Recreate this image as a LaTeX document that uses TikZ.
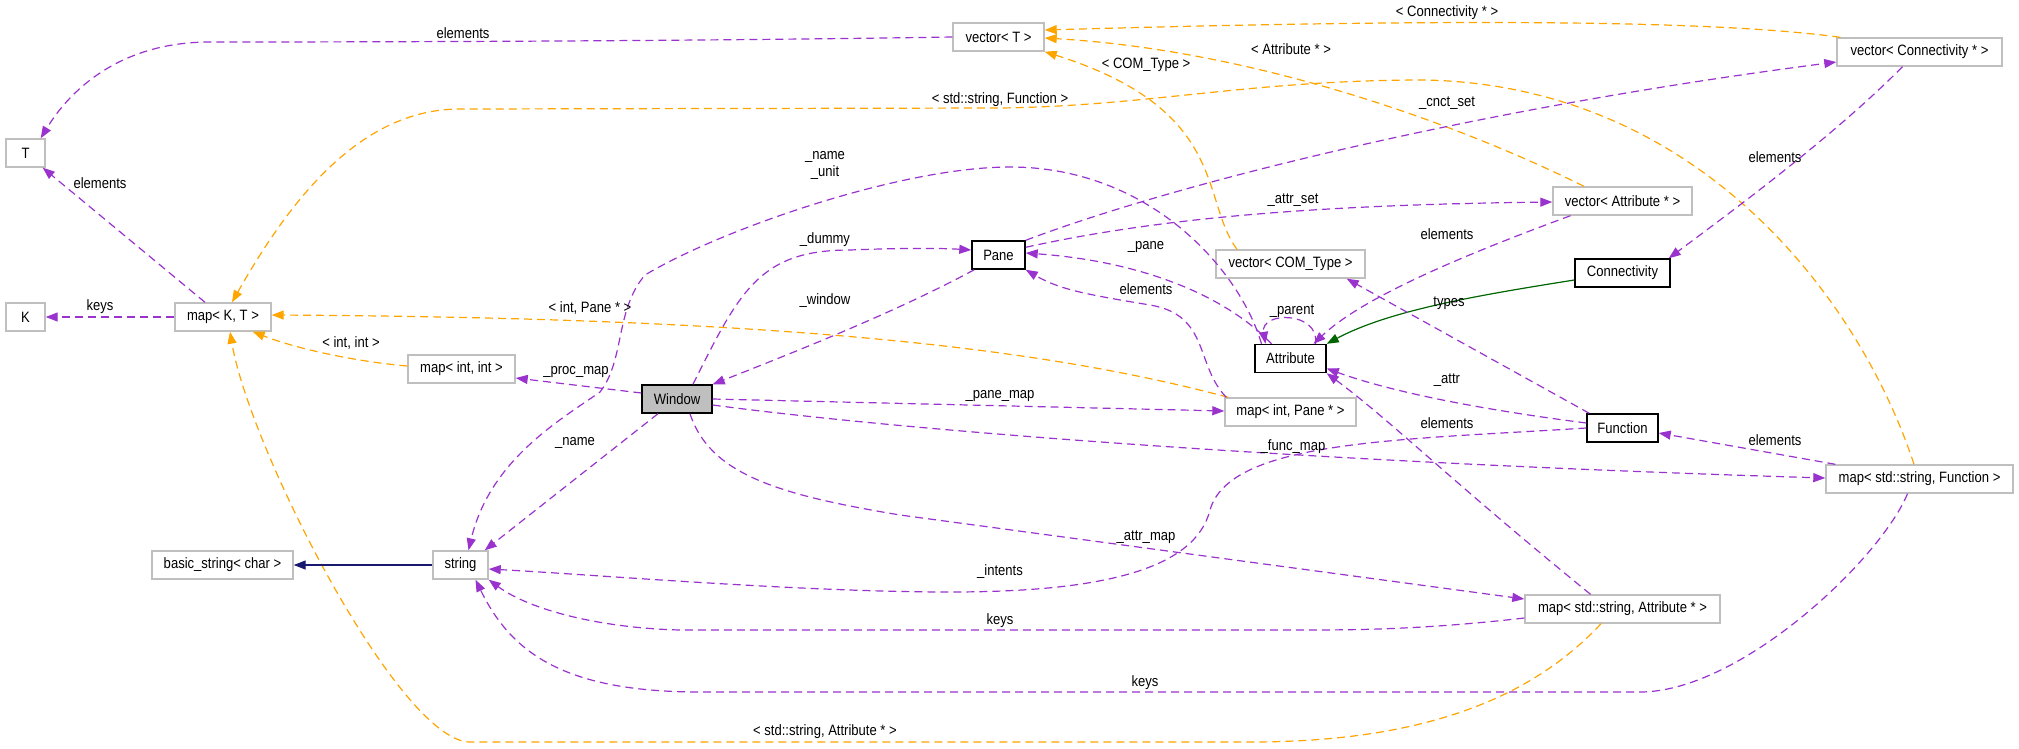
\documentclass[tikz,border=0pt]{standalone}
\usepackage{fontspec}
\setmainfont{Liberation Sans}[FakeStretch=0.87]
\usetikzlibrary{arrows.meta}
\definecolor{dpurple}{HTML}{9A32CD}
\definecolor{dorange}{HTML}{FFA500}
\definecolor{dgreen}{HTML}{006400}
\definecolor{mblue}{HTML}{191970}
\definecolor{boxgray}{HTML}{BFBFBF}
\tikzset{
  gbox/.style={draw=boxgray, line width=1.4pt, minimum height=28pt, inner sep=0pt, fill=white, font=\fontsize{15}{17}\selectfont},
  bbox/.style={gbox, draw=black},
  wbox/.style={gbox, draw=black, fill=boxgray},
  lab/.style={inner sep=0pt, font=\fontsize{15}{17}\selectfont, align=center},
  tip/.style={-{Triangle[length=12pt,width=9pt]}},
  use/.style={draw=dpurple, line width=1.2pt, dash pattern=on 8pt off 5pt, tip},
  tpl/.style={draw=dorange, line width=1.2pt, dash pattern=on 8pt off 5pt, tip},
  inhg/.style={draw=dgreen, line width=1.2pt, tip},
  inhb/.style={draw=mblue, line width=1.2pt, tip}
}
\begin{document}
\begin{tikzpicture}[x=1pt,y=-1pt]
\useasboundingbox (0,0) rectangle (2019,748);
% nodes
\node[gbox, minimum width=39pt] (T) at (25.5,153) {T};
\node[gbox, minimum width=39pt] (K) at (25.5,317) {K};
\node[gbox, minimum width=96pt] (mapKT) at (223,317) {map< K, T >};
\node[gbox, minimum width=107pt] (mapii) at (461.5,369) {map< int, int >};
\node[gbox, minimum width=91pt] (vecT) at (998.5,37) {vector< T >};
\node[bbox, minimum width=53pt] (Pane) at (998.5,255) {Pane};
\node[gbox, minimum width=149pt] (vecCOM) at (1290.5,264) {vector< COM\_Type >};
\node[bbox, minimum width=71pt] (Attribute) at (1290.5,358.5) {Attribute};
\node[gbox, minimum width=165pt] (vecConn) at (1919.5,52) {vector< Connectivity * >};
\node[gbox, minimum width=139pt] (vecAttr) at (1622.5,201) {vector< Attribute * >};
\node[bbox, minimum width=95pt] (Conn) at (1622.5,273) {Connectivity};
\node[wbox, minimum width=70pt] (Window) at (677,399) {Window};
\node[gbox, minimum width=141pt] (bstr) at (222.5,565) {basic\_string< char >};
\node[gbox, minimum width=55pt] (string) at (460.5,565) {string};
\node[gbox, minimum width=131pt] (mapiP) at (1290.5,412) {map< int, Pane * >};
\node[bbox, minimum width=71pt] (Function) at (1622.5,428) {Function};
\node[gbox, minimum width=187pt] (mapSF) at (1919.5,479) {map< std::string, Function >};
\node[gbox, minimum width=195pt] (mapSA) at (1622.5,609) {map< std::string, Attribute * >};

% connectors
\draw[use] (vecT.west) .. controls (700,41) and (400,42) .. (210,42) .. controls (120,42) and (70,90) .. ([xshift=-5pt]T.north east);
\draw[use] ([xshift=-18pt]mapKT.north) -- ([xshift=-3pt]T.south east);
\draw[use] (mapKT.west) -- (K.east);
\draw[tpl] ([yshift=3pt]mapii.west) .. controls (360,362) and (300,350) .. ([xshift=-19pt]mapKT.south east);
\draw[tpl] ([xshift=4pt]mapiP.north west) .. controls (1050,350) and (800,318) .. ([yshift=2pt]mapKT.east);
\draw[tpl] ([xshift=-5.5pt]mapSF.north) .. controls (1860,300) and (1700,85) .. (1424,80) .. controls (1250,80) and (1150,106) .. (1000,108) -- (460,109) .. controls (360,109) and (290,200) .. ([xshift=9pt]mapKT.north);
\draw[tpl] ([xshift=-21.5pt]mapSA.south) .. controls (1530,700) and (1420,742) .. (1250,742) -- (470,742) .. controls (400,742) and (250,450) .. ([xshift=7pt]mapKT.south);
\draw[tpl] ([xshift=4pt]vecConn.north west) .. controls (1700,18) and (1400,20) .. ([yshift=7pt]vecT.east);
\draw[tpl] ([xshift=-38.5pt]vecAttr.north) .. controls (1450,120) and (1250,50) .. ([yshift=-1pt]vecT.east);
\draw[tpl] ([xshift=-53.5pt]vecCOM.north) .. controls (1200,200) and (1230,110) .. (vecT.south east);
\draw[use] (Pane.north east) .. controls (1180,182) and (1480,108) .. ([yshift=-10pt]vecConn.west);
\draw[use] ([yshift=-7pt]Pane.north east) .. controls (1150,220) and (1300,205) .. ([yshift=-1pt]vecAttr.west);
\draw[use] ([xshift=16pt]Window.north) .. controls (740,290) and (760,250) .. (850,250) .. controls (900,248) and (940,248) .. ([yshift=5pt]Pane.west);
\draw[use] ([xshift=3pt]Pane.south west) .. controls (900,310) and (800,350) .. (Window.north east);
\draw[use] ([yshift=6pt]Window.west) -- ([yshift=-9pt]mapii.east);
\draw[use] ([xshift=-19pt]Window.south) -- ([xshift=-4pt]string.north east);
\draw[use] ([xshift=-29pt]Attribute.north) .. controls (1240,270) and (1150,167) .. (1010,167) .. controls (900,167) and (720,230) .. (645,275) .. controls (615,310) and (625,360) .. (600,392) .. controls (560,420) and (490,460) .. ([xshift=8pt]string.north);
\draw[use] ([xshift=-19pt]Attribute.north) .. controls (1230,300) and (1150,262) .. ([yshift=2pt]Pane.east);
\draw[use] ([xshift=2pt]mapiP.north west) .. controls (1195,365) and (1210,315) .. (1150,305) .. controls (1090,295) and (1060,290) .. (Pane.south east);
\draw[use] ([xshift=25pt]Attribute.north) .. controls (1320,311) and (1260,311) .. ([xshift=-25pt]Attribute.north);
\draw[use] ([xshift=-52pt]vecAttr.south) .. controls (1450,260) and (1360,300) .. ([xshift=23pt]Attribute.north);
\draw[inhg] ([yshift=-7pt]Conn.west) .. controls (1480,295) and (1390,310) .. (Attribute.north east);
\draw[use] ([xshift=-17pt]vecConn.south) .. controls (1830,140) and (1720,220) .. ([xshift=-2pt]Conn.north east);
\draw[use] ([xshift=3pt]Function.north west) -- ([xshift=-19pt]vecCOM.south east);
\draw[use] ([yshift=5pt]Function.west) .. controls (1500,412) and (1400,395) .. ([yshift=-10pt]Attribute.east);
\draw[use] (Function.west) .. controls (1400,440) and (1230,440) .. (1210,510) .. controls (1195,570) and (1100,592) .. (950,592) .. controls (800,592) and (600,575) .. ([yshift=-4pt]string.east);
\draw[use] ([xshift=10pt]mapSF.north west) -- ([yshift=-5pt]Function.east);
\draw[use] ([xshift=-32pt]mapSA.north) .. controls (1450,480) and (1390,420) .. (Attribute.south east);
\draw[use] (Window.east) -- ([yshift=1pt]mapiP.west);
\draw[use] ([yshift=-6pt]Window.east) .. controls (900,430) and (1300,462) .. ([yshift=1pt]mapSF.west);
\draw[use] ([xshift=13pt]Window.south) .. controls (710,475) and (780,495) .. (900,515) -- ([yshift=10pt]mapSA.west);
\draw[use] ([yshift=-9pt]mapSA.west) .. controls (1420,630) and (1350,630) .. (1300,630) -- (680,630) .. controls (600,628) and (530,610) .. (string.south east);
\draw[use] ([xshift=-12pt]mapSF.south) .. controls (1880,560) and (1740,692) .. (1640,692) -- (700,692) .. controls (560,692) and (510,650) .. ([xshift=15pt]string.south);
\draw[inhb] (string.west) -- (bstr.east);

% labels
\node[lab] (l1) at (463,33) {elements};
\node[lab] (l2) at (100,183) {elements};
\node[lab] (l3) at (100,307) {keys};
\node[lab] (l4) at (351,343) {< int, int >};
\node[lab] (l5) at (576,372) {\_proc\_map};
\node[lab] (l6) at (590,308) {< int, Pane * >};
\node[lab] (l7) at (1000,100) {< std::string, Function >};
\node[lab] (l8) at (1146,65) {< COM\_Type >};
\node[lab] (l9) at (1291,49) {< Attribute * >};
\node[lab] (l10) at (1447,13) {< Connectivity * >};
\node[lab] (l11) at (825,165) {\_name\\\_unit};
\node[lab] (l12) at (825,240) {\_dummy};
\node[lab] (l13) at (825,301) {\_window};
\node[lab] (l14) at (1146,247) {\_pane};
\node[lab] (l15) at (1146,289) {elements};
\node[lab] (l16) at (1292,311) {\_parent};
\node[lab] (l17) at (1293,200) {\_attr\_set};
\node[lab] (l18) at (1447,103) {\_cnct\_set};
\node[lab] (l19) at (1775,157) {elements};
\node[lab] (l20) at (1447,234) {elements};
\node[lab] (l21) at (1449,303) {types};
\node[lab] (l22) at (1447,380) {\_attr};
\node[lab] (l23) at (1447,423) {elements};
\node[lab] (l24) at (1775,440) {elements};
\node[lab] (l25) at (575,443) {\_name};
\node[lab] (l26) at (1000,396) {\_pane\_map};
\node[lab] (l27) at (1293,447) {\_func\_map};
\node[lab] (l28) at (1146,537) {\_attr\_map};
\node[lab] (l29) at (1000,572) {\_intents};
\node[lab] (l30) at (1000,621) {keys};
\node[lab] (l31) at (1145,683) {keys};
\node[lab] (l32) at (825,732) {< std::string, Attribute * >};
\end{tikzpicture}
\end{document}
